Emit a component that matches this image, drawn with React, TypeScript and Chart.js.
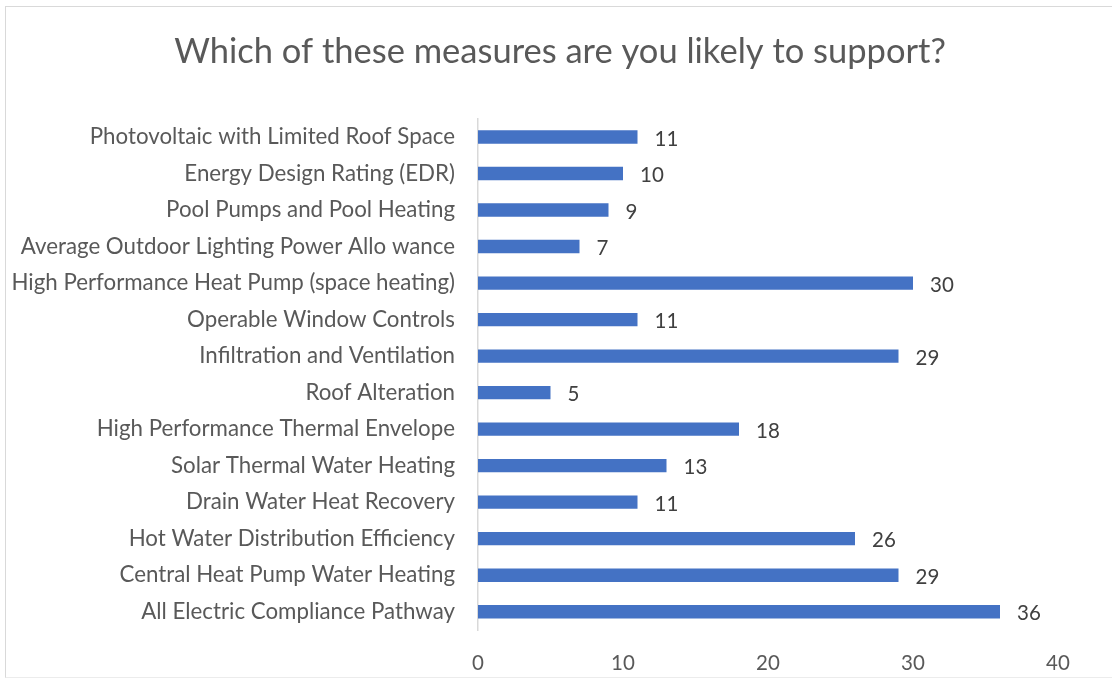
import React, { useEffect, useRef } from "react";
import { Chart, registerables } from "chart.js";

Chart.register(...registerables);

const titleText = "Which of these measures are you likely to support?";
const categories = [
  "Photovoltaic with Limited Roof Space",
  "Energy Design Rating (EDR)",
  "Pool Pumps and Pool Heating",
  "Average Outdoor Lighting Power Allo wance",
  "High Performance Heat Pump (space heating)",
  "Operable Window Controls",
  "Infiltration and Ventilation",
  "Roof Alteration",
  "High Performance Thermal Envelope",
  "Solar Thermal Water Heating",
  "Drain Water Heat Recovery",
  "Hot Water Distribution Efficiency",
  "Central Heat Pump Water Heating",
  "All Electric Compliance Pathway",
];
const supportCounts = [11, 10, 9, 7, 30, 11, 29, 5, 18, 13, 11, 26, 29, 36];
const xTicks = [0, 10, 20, 30, 40];

const FONT = "Lato, 'Open Sans', sans-serif";

const valueLabels = {
  id: "valueLabels",
  afterDatasetsDraw(chart: any) {
    const ctx = chart.ctx;
    const meta = chart.getDatasetMeta(0);
    const data = chart.data.datasets[0].data;
    ctx.save();
    ctx.font = `20.5px ${FONT}`;
    ctx.fillStyle = "#404040";
    ctx.textAlign = "left";
    ctx.textBaseline = "middle";
    meta.data.forEach((bar: any, i: number) => {
      ctx.fillText(String(data[i]), bar.x + 17, bar.y + 2);
    });
    ctx.restore();
  },
};

const chartTitle = {
  id: "chartTitle",
  afterDraw(chart: any) {
    const ctx = chart.ctx;
    ctx.save();
    ctx.font = `34.5px ${FONT}`;
    ctx.fillStyle = "#595959";
    ctx.textAlign = "center";
    ctx.textBaseline = "alphabetic";
    ctx.fillText(titleText, 560, 62.5);
    ctx.restore();
  },
};

export default function App() {
  const canvasRef = useRef<HTMLCanvasElement | null>(null);

  useEffect(() => {
    if (!canvasRef.current) return;
    const chart = new Chart(canvasRef.current, {
      type: "bar",
      data: {
        labels: categories,
        datasets: [
          {
            data: supportCounts,
            backgroundColor: "#4472C4",
            borderWidth: 0,
            barPercentage: 0.365,
            categoryPercentage: 1,
          },
        ],
      },
      options: {
        indexAxis: "y",
        responsive: false,
        animation: false,
        devicePixelRatio: 1,
        layout: { padding: { left: 0, right: 54, top: 118.7, bottom: 0 } },
        plugins: {
          legend: { display: false },
          tooltip: { enabled: false },
          title: { display: false },
        },
        scales: {
          x: {
            min: 0,
            max: 40,
            afterFit: (s: any) => {
              s.height = 49;
            },
            afterBuildTicks: (s: any) => {
              s.ticks = xTicks.map((v) => ({ value: v }));
            },
            grid: { display: false, drawTicks: false },
            border: { display: false },
            ticks: {
              color: "#595959",
              font: { family: FONT, size: 20.5 },
              padding: 21,
            },
          },
          y: {
            afterFit: (s: any) => {
              s.width = 478;
            },
            grid: { display: false, drawTicks: false },
            border: { display: true, color: "#d9d9d9", width: 1.5 },
            ticks: {
              color: "#595959",
              font: { family: FONT, size: 22.3 },
              padding: 23,
              autoSkip: false,
            },
          },
        },
      },
      plugins: [valueLabels, chartTitle],
    });
    return () => chart.destroy();
  }, []);

  return (
    <div
      style={{
        position: "absolute",
        left: 0,
        top: 0,
        width: 1112,
        height: 679,
        overflow: "hidden",
        background: "#ffffff",
      }}
    >
      <div
        style={{
          position: "absolute",
          left: 5,
          top: 6,
          width: 1107,
          height: 670,
          borderLeft: "1px solid #d9d9d9",
          borderTop: "1px solid #d9d9d9",
          borderBottom: "1px solid #ececec",
        }}
      />
      <canvas
        ref={canvasRef}
        width={1112}
        height={679}
        style={{ position: "absolute", left: 0, top: 0 }}
      />
    </div>
  );
}
